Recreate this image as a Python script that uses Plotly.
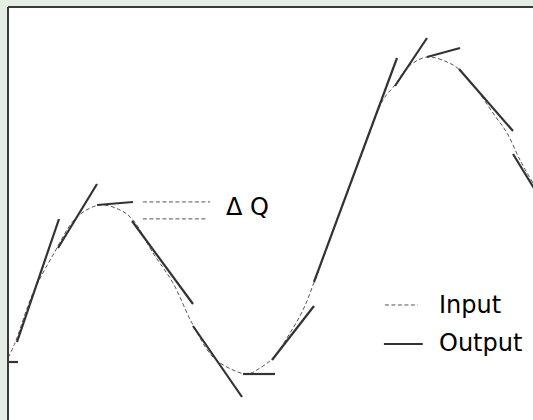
import plotly.graph_objects as go

# input signal (time, amplitude)
in_t = [0.0, 0.14, 0.5, 0.9, 1.38, 1.84, 2.24, 2.5, 2.9, 3.3, 3.68, 4.1, 4.5, 4.8,
        5.04, 5.3, 5.64, 5.9, 6.14, 6.66, 7.18, 7.5, 7.74, 8.0, 8.38, 8.78, 9.04,
        9.38, 9.7, 9.98, 10.24, 10.5]
in_q = [1.24, 1.54, 2.54, 3.30, 4.06, 4.30, 4.20, 4.0, 3.34, 2.74, 1.94, 1.26, 1.0, 0.92,
        1.04, 1.24, 1.74, 2.2, 2.8, 4.2, 5.6, 6.4, 6.7, 7.06, 7.26, 7.16, 7.0,
        6.6, 6.14, 5.74, 5.2, 4.74]

# output: straight segments (start / end of each piece)
out_t0 = [0.0, 0.18, 1.0, 1.78, 2.48, 3.7, 4.7, 5.28, 6.12, 7.74, 8.38, 9.02, 10.1]
out_q0 = [1.16, 1.56, 3.44, 4.30, 3.98, 1.88, 0.92, 1.2, 2.76, 6.68, 7.26, 7.02, 5.32]
out_t1 = [0.2, 1.02, 1.78, 2.5, 3.7, 4.68, 5.34, 6.12, 7.78, 8.38, 9.04, 10.1, 10.54]
out_q1 = [1.16, 4.02, 4.72, 4.36, 2.32, 0.46, 0.92, 2.28, 7.24, 7.64, 7.44, 5.78, 4.6]

seg_x, seg_y = [], []
for a, b, c, d in zip(out_t0, out_q0, out_t1, out_q1):
    seg_x += [a, c, None]
    seg_y += [b, d, None]

fig = go.Figure()
fig.add_trace(go.Scatter(x=in_t, y=in_q, mode='lines', line_shape='spline',
                         line=dict(color='#555555', width=1, dash='4px,2.5px'),
                         name='Input', hoverinfo='skip'))
fig.add_trace(go.Scatter(x=seg_x, y=seg_y, mode='lines',
                         line=dict(color='#333333', width=2.2),
                         name='Output', hoverinfo='skip'))

font = dict(family='DejaVu Sans', size=24, color='black')
dash = dict(color='#555555', width=1, dash='4px,2.5px')

shapes = [
    # frame
    dict(type='line', xref='paper', yref='paper', x0=0, x1=0, y0=-0.05, y1=1, line=dict(color='#3a3a3a', width=2)),
    dict(type='line', xref='paper', yref='paper', x0=0, x1=1.05, y0=1, y1=1, line=dict(color='#3a3a3a', width=2)),
    # delta Q markers
    dict(type='line', xref='paper', yref='paper', x0=0.257, x1=0.385, y0=0.528, y1=0.528, line=dash),
    dict(type='line', xref='paper', yref='paper', x0=0.257, x1=0.381, y0=0.487, y1=0.487, line=dash),
    # legend keys
    dict(type='line', xref='paper', yref='paper', x0=0.718, x1=0.781, y0=0.2785, y1=0.2785, line=dash),
    dict(type='line', xref='paper', yref='paper', x0=0.716, x1=0.790, y0=0.184, y1=0.184,
         line=dict(color='#333333', width=2.2)),
]

annotations = [
    dict(text='Δ Q', xref='paper', yref='paper', x=0.411, y=0.516, xanchor='left', yanchor='middle',
         showarrow=False, font=font),
    dict(text='Input', xref='paper', yref='paper', x=0.818, y=0.2785, xanchor='left', yanchor='middle',
         showarrow=False, font=font),
    dict(text='Output', xref='paper', yref='paper', x=0.818, y=0.187, xanchor='left', yanchor='middle',
         showarrow=False, font=font),
]

fig.update_layout(
    width=533, height=420,
    margin=dict(l=8, r=0, t=7, b=0, autoexpand=False),
    paper_bgcolor='#e4eee4',
    plot_bgcolor='white',
    showlegend=False,
    shapes=shapes,
    annotations=annotations,
    xaxis=dict(range=[0, 10.5], visible=False),
    yaxis=dict(range=[0, 8.26], visible=False),
)

# drop the page's default body margin so the figure sits at the window corner
fig.write_html("out.html", config={'displayModeBar': False},
               post_script="document.body.style.margin='0';document.body.style.overflow='hidden';")
